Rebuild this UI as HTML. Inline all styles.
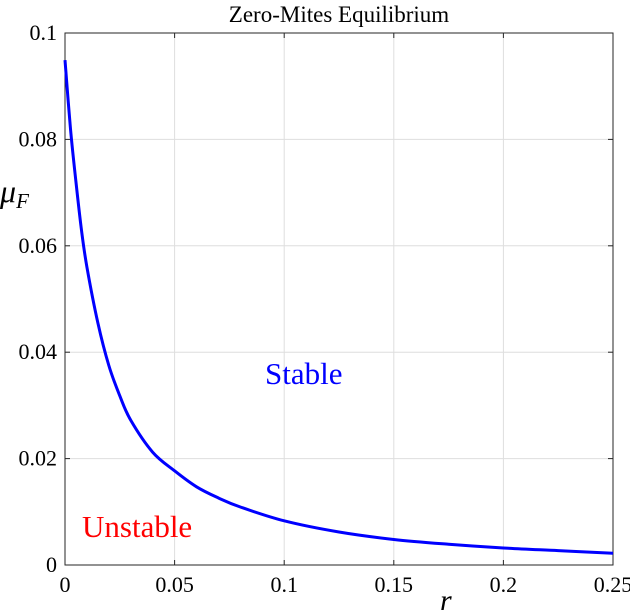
<!DOCTYPE html>
<html><head><meta charset="utf-8"><style>
html,body{margin:0;padding:0;background:#fff;}
svg{display:block;font-family:"Liberation Serif",serif;}
</style></head><body>
<svg width="630" height="612" viewBox="0 0 630 612">
<text x="339" y="22" text-anchor="middle" font-size="23">Zero-Mites Equilibrium</text>
<g id="grid"></g>
<g id="ticks"></g>
<rect x="65" y="33" width="548" height="532" fill="none" stroke="#262626" stroke-width="1"/>
<path id="curve" fill="none" stroke="#0000ff" stroke-width="3"/>
<text x="265" y="384" font-size="31" fill="#0000ff">Stable</text>
<text x="82" y="537" font-size="31" fill="#ff0000">Unstable</text>
<text x="0" y="202" font-size="32" font-style="italic">μ<tspan font-size="21" dy="6">F</tspan></text>
<text x="440" y="610" font-size="30" font-style="italic">r</text>
</svg>
<script>
const xTicks=[0,0.05,0.1,0.15,0.2,0.25];
const xTickLabels=["0","0.05","0.1","0.15","0.2","0.25"];
const yTicks=[0,0.02,0.04,0.06,0.08,0.1];
const yTickLabels=["0","0.02","0.04","0.06","0.08","0.1"];
const rValues=[0,0.0025,0.005,0.0075,0.01,0.015,0.02,0.025,0.03,0.04,0.05,0.06,0.07,0.08,0.1,0.125,0.15,0.175,0.2,0.225,0.25];
const muValues=[0.0949,0.082,0.072,0.063,0.056,0.0455,0.0375,0.0318,0.0272,0.0212,0.0177,0.0147,0.0126,0.0109,0.0083,0.0062,0.0048,0.0039,0.0032,0.0027,0.0022];
const X=v=>65+v/0.25*548, Y=v=>565-v/0.1*532;
const ns="http://www.w3.org/2000/svg";
const grid=document.getElementById('grid'), ticks=document.getElementById('ticks');
function mk(tag,attrs,parent){const e=document.createElementNS(ns,tag);for(const k in attrs)e.setAttribute(k,attrs[k]);parent.appendChild(e);return e;}
xTicks.forEach((t,i)=>{
  const x=X(t);
  if(i>0&&i<xTicks.length-1){const g=mk('line',{x1:x,x2:x,y1:33,y2:565,stroke:'#dedede','stroke-width':1},grid);
  
  }
  const a=mk('line',{x1:x,x2:x,y1:565,y2:560,stroke:'#262626'},ticks);
  
  
  const b=mk('line',{x1:x,x2:x,y1:33,y2:38,stroke:'#262626'},ticks);
  
  
  const l=mk('text',{x:x,y:592,'text-anchor':'middle','font-size':22},ticks);
  l.textContent=xTickLabels[i];
  
  
});
yTicks.forEach((t,i)=>{
  const y=Y(t);
  if(i>0&&i<yTicks.length-1){const g=mk('line',{x1:65,x2:613,y1:y,y2:y,stroke:'#dedede','stroke-width':1},grid);
  
  }
  const a=mk('line',{x1:65,x2:70,y1:y,y2:y,stroke:'#262626'},ticks);
  
  
  const b=mk('line',{x1:613,x2:608,y1:y,y2:y,stroke:'#262626'},ticks);
  
  
  const l=mk('text',{x:57,y:y+7,'text-anchor':'end','font-size':22},ticks);
  l.textContent=yTickLabels[i];
  
  
});
const pts=rValues.map((r,i)=>[X(r),Y(muValues[i])]);
let d='M'+pts[0][0]+','+pts[0][1];
for(let i=0;i<pts.length-1;i++){
  const p0=pts[Math.max(0,i-1)],p1=pts[i],p2=pts[i+1],p3=pts[Math.min(pts.length-1,i+2)];
  const c1=[p1[0]+(p2[0]-p0[0])/6,p1[1]+(p2[1]-p0[1])/6];
  const c2=[p2[0]-(p3[0]-p1[0])/6,p2[1]-(p3[1]-p1[1])/6];
  d+=' C'+c1[0]+','+c1[1]+' '+c2[0]+','+c2[1]+' '+p2[0]+','+p2[1];
}
document.getElementById('curve').setAttribute('d',d);
</script>
</body></html>
